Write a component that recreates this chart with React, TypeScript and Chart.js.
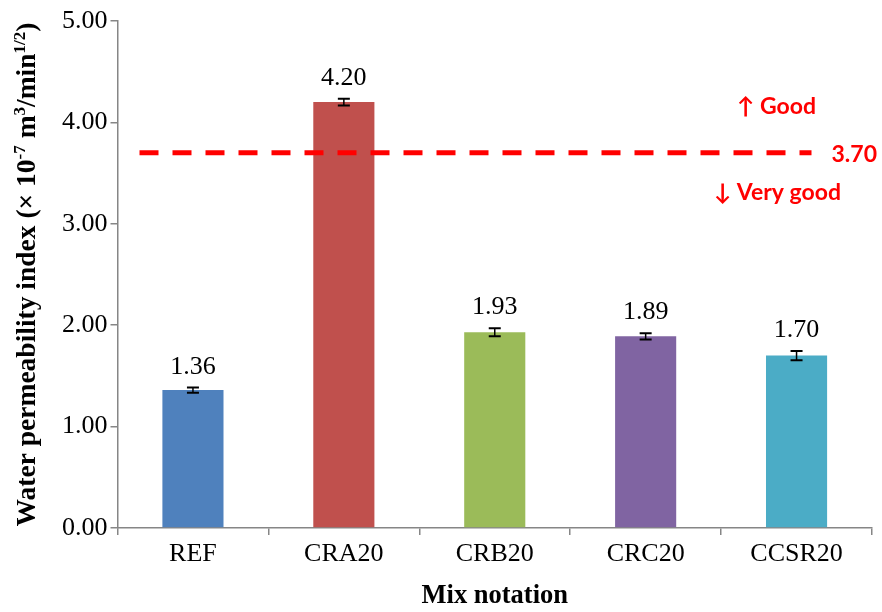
import React, { useEffect, useRef } from "react";
import { Chart, registerables } from "chart.js";

Chart.register(...registerables);

const categories = ["REF", "CRA20", "CRB20", "CRC20", "CCSR20"];
const values = [1.36, 4.2, 1.93, 1.89, 1.7];
const errors = [0.025, 0.033, 0.04, 0.03, 0.045];
const barColors = ["#4F81BD", "#C0504D", "#9BBB59", "#8064A2", "#4BACC6"];
const yTicks = [0, 1, 2, 3, 4, 5];
const thresholdValue = [3.7];
const thresholdLabel = "3.70";
const aboveLabel = "\u2191 Good";
const belowLabel = "\u2193 Very good";
const xTitle = "Mix notation";
const yTitleParts: [string, boolean][] = [
  ["Water permeability index (\u00d7 10", false],
  ["-7", true],
  [" m", false],
  ["3", true],
  ["/min", false],
  ["1/2", true],
  [")", false],
];

const SERIF = "'Liberation Serif', 'Times New Roman', serif";
const SANS = "Lato, 'Open Sans', sans-serif";

const overlay = {
  id: "overlay",
  afterDatasetsDraw(chart: any) {
    const { ctx, chartArea } = chart;
    const x = chart.scales.x;
    const y = chart.scales.y;
    ctx.save();
    // error bars and value labels
    values.forEach((v, i) => {
      const cx = x.getPixelForValue(i);
      const top = y.getPixelForValue(v + errors[i]);
      const bot = y.getPixelForValue(v - errors[i]);
      ctx.strokeStyle = "#000";
      ctx.setLineDash([]);
      ctx.lineWidth = 1.5;
      ctx.beginPath();
      ctx.moveTo(cx, top);
      ctx.lineTo(cx, bot);
      ctx.stroke();
      ctx.lineWidth = 2;
      ctx.beginPath();
      ctx.moveTo(cx - 6, top);
      ctx.lineTo(cx + 6, top);
      ctx.moveTo(cx - 6, bot);
      ctx.lineTo(cx + 6, bot);
      ctx.stroke();
      ctx.fillStyle = "#000";
      ctx.font = `26px ${SERIF}`;
      ctx.textAlign = "center";
      ctx.textBaseline = "alphabetic";
      ctx.fillText(v.toFixed(2), cx, top - 14);
    });
    // threshold dashed line
    const ty = y.getPixelForValue(thresholdValue[0]);
    ctx.strokeStyle = "#FF0000";
    ctx.lineWidth = 5;
    ctx.setLineDash([19, 14]);
    ctx.beginPath();
    ctx.moveTo(chartArea.left + 22, ty);
    ctx.lineTo(chartArea.left + 694, ty);
    ctx.stroke();
    ctx.setLineDash([]);
    ctx.fillStyle = "#FF0000";
    ctx.font = `bold 23px ${SANS}`;
    ctx.textBaseline = "middle";
    ctx.textAlign = "left";
    ctx.fillText(thresholdLabel, chartArea.left + 714, ty + 2);
    ctx.textAlign = "center";
    ctx.fillText(aboveLabel, chartArea.left + 659, ty - 46);
    ctx.fillText(belowLabel, chartArea.left + 660, ty + 40);

    // x title
    ctx.fillStyle = "#000";
    ctx.font = `bold 26.5px ${SERIF}`;
    ctx.textAlign = "center";
    ctx.textBaseline = "middle";
    ctx.fillText(xTitle, (chartArea.left + chartArea.right) / 2, 596);

    // y title with superscripts
    const base = `bold 27.5px ${SERIF}`;
    const sup = `bold 17px ${SERIF}`;
    let total = 0;
    const widths = yTitleParts.map(([t, s]) => {
      ctx.font = s ? sup : base;
      const w = ctx.measureText(t).width;
      total += w;
      return w;
    });
    const cy = (chartArea.top + chartArea.bottom) / 2;
    ctx.translate(25, cy);
    ctx.rotate(-Math.PI / 2);
    ctx.textAlign = "left";
    ctx.textBaseline = "alphabetic";
    let px = -total / 2;
    yTitleParts.forEach(([t, s], i) => {
      ctx.font = s ? sup : base;
      ctx.fillText(t, px, s ? 0 : 10);
      px += widths[i];
    });
    ctx.restore();
  },
};

export default function App() {
  const ref = useRef<HTMLCanvasElement>(null);
  useEffect(() => {
    if (!ref.current) return;
    const chart = new Chart(ref.current, {
      type: "bar",
      data: {
        labels: categories,
        datasets: [
          {
            data: values,
            backgroundColor: barColors,
            barPercentage: 0.405,
            categoryPercentage: 1,
          },
        ],
      },
      options: {
        animation: false,
        responsive: true,
        maintainAspectRatio: false,
        layout: { padding: { top: 21, right: 10, bottom: 0, left: 0 } },
        plugins: { legend: { display: false }, tooltip: { enabled: false } },
        scales: {
          x: {
            afterFit: (s: any) => {
              s.height = 84;
            },
            grid: {
              drawOnChartArea: false,
              drawTicks: true,
              tickLength: 7,
              color: "#868686",
              lineWidth: 1.5,
              offset: true,
            },
            border: { color: "#868686", width: 1.5 },
            ticks: {
              color: "#000",
              font: { family: SERIF, size: 26 },
              padding: 4,
              maxRotation: 0,
            },
          },
          y: {
            min: 0,
            max: 5,
            afterFit: (s: any) => {
              s.width = 117.5;
            },
            afterBuildTicks: (s: any) => {
              s.ticks = yTicks.map((v) => ({ value: v }));
            },
            grid: {
              drawOnChartArea: false,
              drawTicks: true,
              tickLength: 7,
              color: "#868686",
              lineWidth: 1.5,
            },
            border: { color: "#868686", width: 1.5 },
            ticks: {
              color: "#000",
              font: { family: SERIF, size: 26 },
              padding: 3,
              callback: (v: any) => Number(v).toFixed(2),
            },
          },
        },
      },
      plugins: [overlay],
    });
    return () => chart.destroy();
  }, []);
  return (
    <div style={{ position: "absolute", left: 0, top: 0, width: 882, height: 612, background: "#fff" }}>
      <canvas ref={ref} />
    </div>
  );
}
